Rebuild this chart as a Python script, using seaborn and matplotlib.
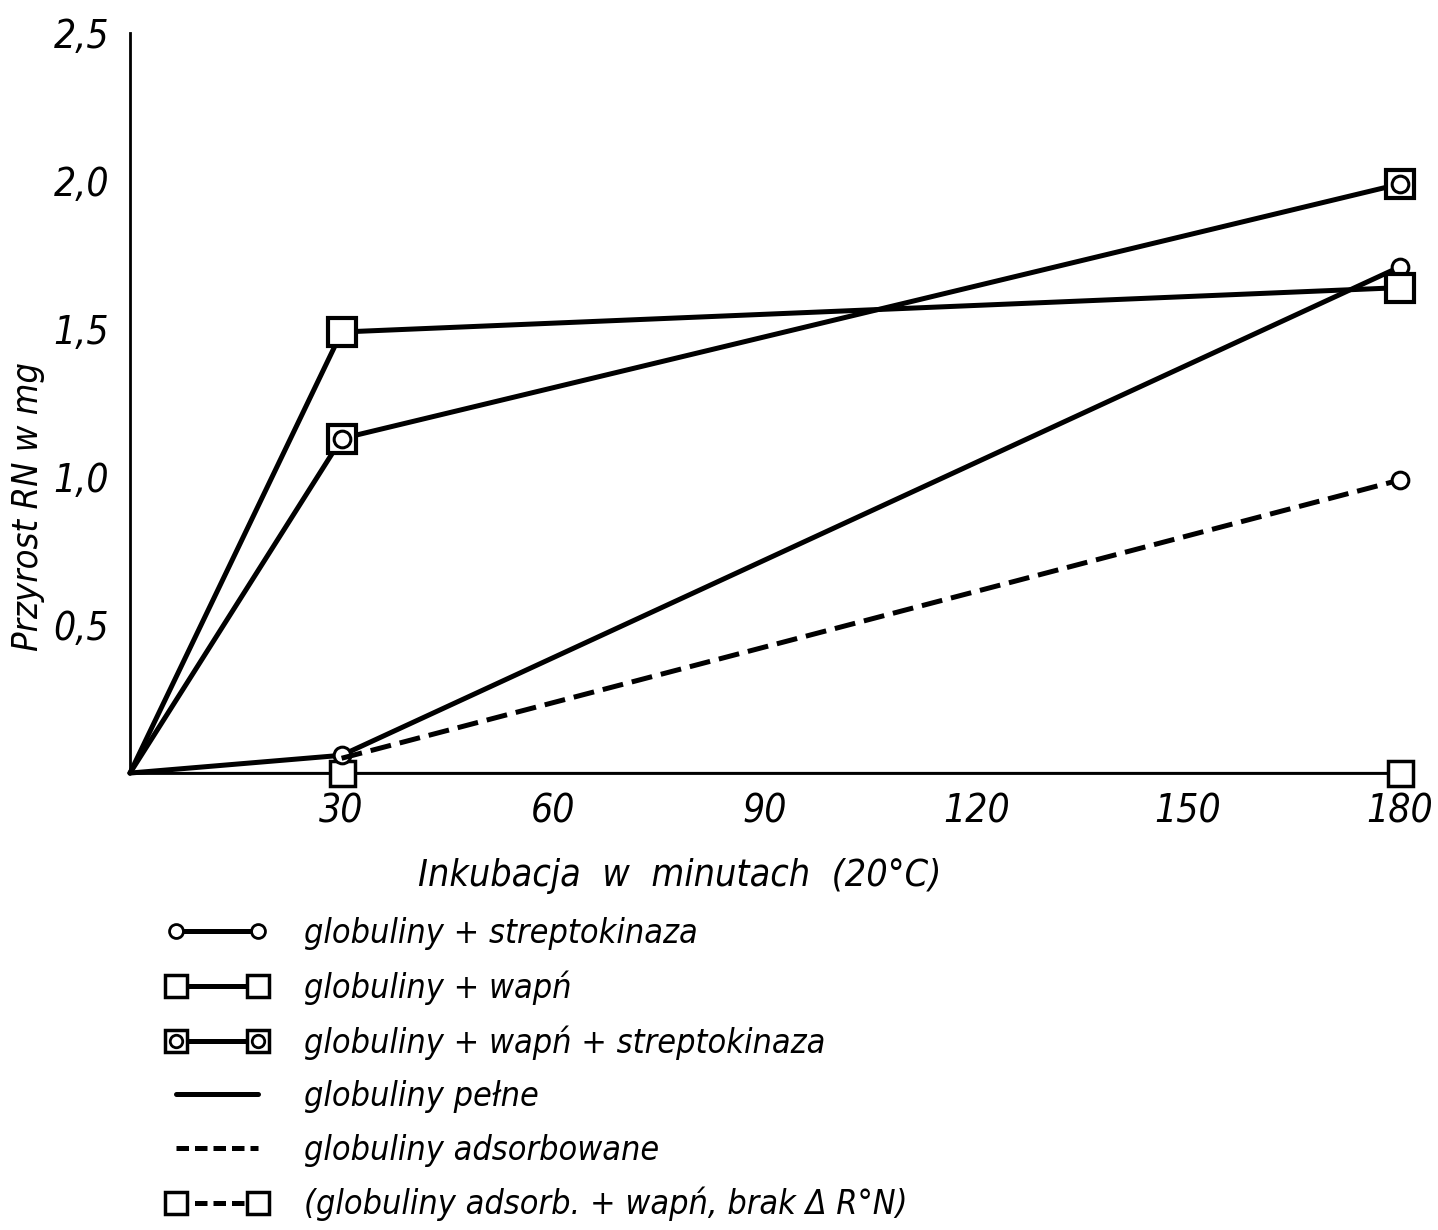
import matplotlib
matplotlib.use("Agg")
import matplotlib.pyplot as plt
import seaborn as sns
from matplotlib.lines import Line2D

# ---- data ----
minutes = [0, 30, 180]
strepto = [0.0, 0.06, 1.71]            # globuliny + streptokinaza
wapn = [0.0, 1.49, 1.64]               # globuliny + wapń
wapn_strepto = [0.0, 1.13, 1.99]       # globuliny + wapń + streptokinaza
adsorb_minutes = [30, 180]
adsorb = [0.05, 0.99]                  # globuliny adsorbowane
adsorb_wapn = [0.0, 0.0, 0.0]          # globuliny adsorb. + wapń
xtick_vals = [30, 60, 90, 120, 150, 180]
xtick_labels = ["30", "60", "90", "120", "150", "180"]
ytick_vals = [0.5, 1.0, 1.5, 2.0, 2.5]
ytick_labels = ["0,5", "1,0", "1,5", "2,0", "2,5"]
legend_labels = [
    "globuliny + streptokinaza",
    "globuliny + wapń",
    "globuliny + wapń + streptokinaza",
    "globuliny pełne",
    "globuliny adsorbowane",
    "(globuliny adsorb. + wapń, brak \u0394 R\u00b0N)",
]

sns.set_theme(style="white")
plt.rcParams["font.family"] = ["DejaVu Sans"]
plt.rcParams["font.style"] = "italic"
plt.rcParams["font.stretch"] = "condensed"
plt.rcParams["text.color"] = "black"

fig = plt.figure(figsize=(14.38, 12.30), dpi=100)
ax = fig.add_axes([0.0904, 0.3715, 0.883, 0.6016])

LW = 3.6
K = "black"
common = dict(ax=ax, color=K, clip_on=False)

# baseline series (adsorbed + calcium) - thin line on x-axis with squares
sns.lineplot(x=minutes, y=adsorb_wapn, lw=1.6,
             marker="s", markersize=18, markerfacecolor="white",
             markeredgecolor=K, markeredgewidth=2.5, markevery=[1, 2],
             zorder=3, **common)
# globuliny + streptokinaza
sns.lineplot(x=minutes, y=strepto, lw=LW,
             marker="o", markersize=12, markerfacecolor="white",
             markeredgecolor=K, markeredgewidth=2.2, markevery=[1, 2],
             zorder=4, **common)
# adsorbed (dashed)
sns.lineplot(x=adsorb_minutes, y=adsorb, lw=LW,
             linestyle=(0, (4.2, 1.8)),
             marker="o", markersize=12, markerfacecolor="white",
             markeredgecolor=K, markeredgewidth=2.2, markevery=[1],
             zorder=4, **common)
# globuliny + wapń
sns.lineplot(x=minutes, y=wapn, lw=LW,
             marker="s", markersize=20, markerfacecolor="white",
             markeredgecolor=K, markeredgewidth=3, markevery=[1, 2],
             zorder=5, **common)
# globuliny + wapń + streptokinaza
sns.lineplot(x=minutes, y=wapn_strepto, lw=LW,
             marker="s", markersize=20, markerfacecolor="white",
             markeredgecolor=K, markeredgewidth=3, markevery=[1, 2],
             zorder=5, **common)
sns.lineplot(x=minutes[1:], y=wapn_strepto[1:], lw=0,
             marker="o", markersize=12, markerfacecolor="white",
             markeredgecolor=K, markeredgewidth=2.2, zorder=6, **common)

ax.set_xlim(0, 180)
ax.set_ylim(0, 2.5)
ax.set_xticks(xtick_vals)
ax.set_xticklabels(xtick_labels)
ax.set_yticks(ytick_vals)
ax.set_yticklabels(ytick_labels)
ax.tick_params(axis="both", length=0, labelsize=28, colors=K)
ax.tick_params(axis="x", pad=14)
ax.tick_params(axis="y", pad=15)
for side in ["top", "right"]:
    ax.spines[side].set_visible(False)
for side in ["left", "bottom"]:
    ax.spines[side].set_color(K)
    ax.spines[side].set_linewidth(2)
ax.set_xlabel("")
ax.set_ylabel("Przyrost RN w mg", fontsize=26, color=K)
ax.yaxis.set_label_coords(-0.067, 0.36)

fig.text(0.473, 0.288, "Inkubacja  w  minutach  (20\u00b0C)", fontsize=27,
         ha="center", va="center", color=K)

# legend
h1 = Line2D([], [], color=K, lw=LW, marker="o", markersize=10,
            markerfacecolor="white", markeredgecolor=K, markeredgewidth=2)
h2 = Line2D([], [], color=K, lw=LW, marker="s", markersize=16,
            markerfacecolor="white", markeredgecolor=K, markeredgewidth=2.5)
h3a = Line2D([], [], color=K, lw=LW, marker="s", markersize=16,
             markerfacecolor="white", markeredgecolor=K, markeredgewidth=2.5)
h3b = Line2D([], [], color=K, lw=0, marker="o", markersize=9,
             markerfacecolor="white", markeredgecolor=K, markeredgewidth=2)
h4 = Line2D([], [], color=K, lw=LW)
h5 = Line2D([], [], color=K, lw=LW, linestyle=(0, (2.5, 1.2)))
h6 = Line2D([], [], color=K, lw=LW, linestyle=(0, (2.5, 1.2)), marker="s",
            markersize=16, markerfacecolor="white", markeredgecolor=K,
            markeredgewidth=2.5)
leg = fig.legend([h1, h2, (h3a, h3b), h4, h5, h6], legend_labels,
                 loc="upper left", bbox_to_anchor=(0.094, 0.2795),
                 frameon=False, fontsize=24.5, numpoints=2,
                 handlelength=3.0, handletextpad=1.05, labelspacing=0.6)
for t in leg.get_texts():
    t.set_color(K)

fig.savefig("out.png", dpi=100)
